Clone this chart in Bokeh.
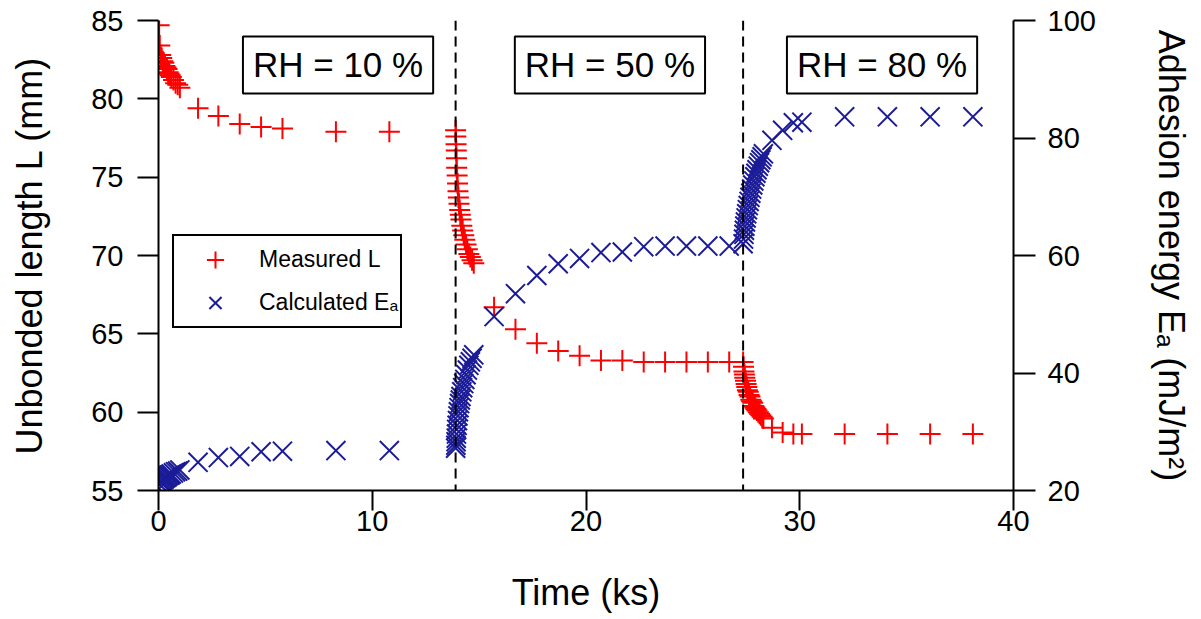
from bokeh.plotting import figure
from bokeh.models import (Range1d, LinearAxis, FixedTicker, Span, Label, Legend,
                          LegendItem, ColumnDataSource)
from bokeh.embed import file_html
from bokeh.resources import INLINE

# ---------------- data ----------------
# RH = 10 %
time_rh10 = [0.03, 0.06, 0.10, 0.15, 0.20, 0.25, 0.30, 0.35, 0.40, 0.45, 0.50, 0.55,
             0.60, 0.70, 0.80, 0.90, 1.00, 1.85, 2.80, 3.80, 4.80, 5.80, 8.30, 10.80]
length_rh10 = [84.7, 83.4, 82.8, 82.6, 82.4, 82.3, 82.1, 82.0, 81.9, 81.7, 81.6, 81.5,
               81.4, 81.2, 81.0, 80.9, 80.7, 79.4, 78.9, 78.4, 78.2, 78.1, 77.9, 77.9]
energy_rh10 = [20.3, 21.0, 21.4, 21.6, 21.8, 21.9, 22.1, 22.2, 22.3, 22.5, 22.6, 22.7,
               22.8, 23.0, 23.2, 23.3, 23.5, 24.8, 25.6, 25.8, 26.6, 26.7, 26.8, 26.8]

# RH = 50 %
time_rh50 = [13.90, 13.91, 13.92, 13.93, 13.94, 13.95, 13.97, 13.99, 14.01, 14.03, 14.06, 14.09,
             14.12, 14.15, 14.19, 14.23, 14.28, 14.33, 14.39, 14.45, 14.52, 14.59, 14.67, 14.75,
             15.7, 16.7, 17.7, 18.7, 19.7, 20.7, 21.7, 22.7, 23.7, 24.7, 25.7, 26.7]
length_rh50 = [78.0, 77.6, 77.1, 76.7, 76.2, 75.6, 75.1, 74.6, 74.1, 73.7, 73.3, 72.9,
               72.6, 72.3, 71.9, 71.6, 71.3, 71.0, 70.7, 70.4, 70.1, 69.9, 69.7, 69.5,
               66.7, 65.3, 64.4, 63.9, 63.6, 63.3, 63.3, 63.2, 63.2, 63.2, 63.2, 63.2]
energy_rh50 = [27.2, 27.7, 28.3, 28.9, 29.6, 30.4, 31.1, 31.9, 32.7, 33.4, 34.1, 34.8,
               35.4, 36.0, 36.8, 37.5, 38.2, 38.9, 39.7, 40.5, 41.3, 41.9, 42.5, 43.1,
               49.6, 53.5, 56.6, 58.6, 59.5, 60.5, 60.6, 61.5, 61.6, 61.6, 61.6, 61.6]

# RH = 80 %
time_rh80 = [27.35, 27.37, 27.39, 27.41, 27.43, 27.46, 27.49, 27.52, 27.55, 27.59, 27.63, 27.67,
             27.71, 27.75, 27.80, 27.85, 27.90, 27.95, 28.00, 28.06, 28.12, 28.18, 28.24, 28.30,
             28.7, 29.2, 29.7, 30.1, 32.1, 34.1, 36.1, 38.1]
length_rh80 = [63.2, 62.9, 62.6, 62.4, 62.2, 62.0, 61.8, 61.6, 61.4, 61.3, 61.1, 61.0,
               60.8, 60.7, 60.6, 60.4, 60.3, 60.2, 60.1, 60.0, 59.9, 59.8, 59.7, 59.6,
               59.0, 58.7, 58.6, 58.6, 58.6, 58.6, 58.6, 58.6]
energy_rh80 = [62.0, 62.8, 63.6, 64.3, 65.0, 65.7, 66.4, 67.1, 67.8, 68.5, 69.2, 69.9,
               70.6, 71.3, 72.0, 72.7, 73.4, 74.0, 74.6, 75.2, 75.8, 76.3, 76.8, 77.3,
               79.6, 81.3, 82.6, 82.7, 83.6, 83.6, 83.6, 83.6]

rh_change_times = [13.9, 27.35]
rh_labels = ["RH = 10 %", "RH = 50 %", "RH = 80 %"]
rh_label_times = [8.4, 21.12, 33.85]
rh_label_level = 82.16

x_ticks = [0, 10, 20, 30, 40]
left_ticks = [55, 60, 65, 70, 75, 80, 85]
right_ticks = [20, 40, 60, 80, 100]

# ---------------- figure ----------------
FONT = "Liberation Sans"
RED = "#ff0000"
BLUE = "#1c1c98"

src = ColumnDataSource(dict(
    t=time_rh10 + time_rh50 + time_rh80,
    L=length_rh10 + length_rh50 + length_rh80,
    E=energy_rh10 + energy_rh50 + energy_rh80,
))

p = figure(width=1200, height=619, output_backend="svg", toolbar_location=None,
           x_range=Range1d(0, 40), y_range=Range1d(55, 85),
           min_border_left=158, min_border_right=187, min_border_top=20,
           min_border_bottom=129)
p.extra_y_ranges = {"E": Range1d(20, 100)}
p.outline_line_color = None
p.xgrid.visible = False
p.ygrid.visible = False
p.background_fill_color = "white"
p.border_fill_color = "white"

right_axis = LinearAxis(y_range_name="E")
p.add_layout(right_axis, "right")


def style(ax, ticks, out, lab_stand, title, title_stand):
    ax.ticker = FixedTicker(ticks=ticks)
    ax.major_tick_out = out
    ax.major_tick_in = 0
    ax.minor_tick_out = 0
    ax.minor_tick_in = 0
    ax.axis_line_width = 2
    ax.axis_line_color = "black"
    ax.major_tick_line_width = 2
    ax.major_tick_line_color = "black"
    ax.major_label_text_font = FONT
    ax.major_label_text_font_size = "29px"
    ax.major_label_text_color = "black"
    ax.major_label_standoff = lab_stand
    ax.axis_label = title
    ax.axis_label_text_font = FONT
    ax.axis_label_text_font_size = "36px"
    ax.axis_label_text_font_style = "normal"
    ax.axis_label_text_color = "black"
    ax.axis_label_standoff = title_stand


style(p.xaxis[0], x_ticks, 20, 0, "Time (ks)", 38)
style(p.yaxis[0], left_ticks, 21, 14, "Unbonded length L (mm)", 38)
style(right_axis, right_ticks, 22, 12, "Adhesion energy Eₐ (mJ/m²)", 52)

for tc in rh_change_times:
    p.add_layout(Span(location=tc, dimension="height", line_color="black",
                      line_width=2, line_dash="10 6"))

r_L = p.scatter("t", "L", source=src, marker="cross", size=21,
                line_color=RED, line_width=2)
r_E = p.scatter("t", "E", source=src, marker="x", size=27, y_range_name="E",
                line_color=BLUE, line_width=2)

for txt, tx in zip(rh_labels, rh_label_times):
    lbl = Label(x=tx, y=rh_label_level, text=txt, text_align="center",
                text_baseline="middle", text_font=FONT, text_font_size="35px",
                text_color="black", border_line_color="black", border_line_width=2,
                background_fill_color="white")
    try:
        lbl.padding = dict(x=10, y=9)
    except Exception:
        lbl.padding = 10
    p.add_layout(lbl)

legend = Legend(items=[LegendItem(label="Measured L", renderers=[r_L]),
                       LegendItem(label="Calculated Eₐ", renderers=[r_E])],
                location=(14, 162), orientation="vertical",
                padding=2, spacing=0, margin=0,
                glyph_height=43, glyph_width=78, label_height=43,
                label_standoff=5, label_text_font=FONT,
                label_text_font_size="23px", label_text_color="black",
                border_line_color="black", border_line_width=2,
                border_line_alpha=1.0,
                background_fill_color="white", background_fill_alpha=1.0)
p.add_layout(legend)

open("out.html", "w").write(file_html(p, INLINE))
